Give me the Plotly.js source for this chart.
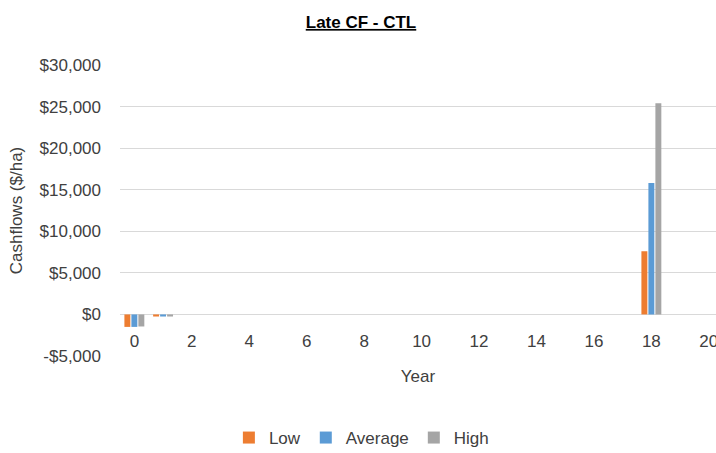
<!DOCTYPE html>
<html>
<head>
<meta charset="utf-8">
<script src="https://cdn.plot.ly/plotly-3.0.1.min.js"></script>
<style>html,body{margin:0;padding:0;background:#fff;overflow:hidden;}#chart{width:716px;height:453px;}</style>
</head>
<body>
<div id="chart"></div>
<script>
const years = [0,1,2,3,4,5,6,7,8,9,10,11,12,13,14,15,16,17,18,19,20];
const lowVals = [-1500,-250,0,0,0,0,0,0,0,0,0,0,0,0,0,0,0,0,7600,0,0];
const avgVals = [-1500,-250,0,0,0,0,0,0,0,0,0,0,0,0,0,0,0,0,15800,0,0];
const highVals = [-1450,-250,0,0,0,0,0,0,0,0,0,0,0,0,0,0,0,0,25400,0,0];
const yTickVals = [-5000,0,5000,10000,15000,20000,25000,30000];
const yTickText = ['-$5,000','$0','$5,000','$10,000','$15,000','$20,000','$25,000','$30,000'];
const seriesNames = ['Low','Average','High'];
const colors = ['#ED7D31','#5B9BD5','#A5A5A5'];

const font = 'Liberation Sans, Arial, sans-serif';
const data = [lowVals, avgVals, highVals].map((v,i)=>({
  type:'bar', x: years, y: v, name: seriesNames[i],
  marker:{color: colors[i]}
}));

const layout = {
  width:716, height:453,
  margin:{l:120, r:0, t:65, b:97, pad:0},
  paper_bgcolor:'#fff', plot_bgcolor:'#fff',
  font:{family:font, size:17, color:'#404040'},
  title:{text:'<b><u>Late CF - CTL</u></b>', x:361/716, xref:'container', xanchor:'center', y:1-22/453, yref:'container', yanchor:'middle', font:{family:font, size:17, color:'#000'}},
  barmode:'group', bargap:0.27, bargroupgap:0.15,
  xaxis:{
    range:[-0.5,20.25], tickmode:'linear', tick0:0, dtick:2,
    anchor:'free', position:5000/35000,
    showgrid:false, zeroline:false, showline:false,
    ticks:'', ticklabelstandoff:15, ticklabeloverflow:'allow',
    tickfont:{family:font, size:17, color:'#404040'},
    title:{text:'Year', font:{family:font, size:17, color:'#404040'}, standoff:19}
  },
  yaxis:{
    range:[-5000,30000], tickvals:yTickVals, ticktext:yTickText,
    showgrid:true, gridcolor:'#D9D9D9', gridwidth:1,
    zeroline:true, zerolinecolor:'#D9D9D9', zerolinewidth:1,
    showline:false, ticks:'', ticklabelstandoff:18,
    tickfont:{family:font, size:17, color:'#404040'},
    title:{text:'Cashflows ($/ha)', font:{family:font, size:17, color:'#404040'}, standoff:12}
  },
  legend:{orientation:'h', x:0.405, xanchor:'center', yref:'container', y:1-438/453, yanchor:'middle',
    font:{family:font, size:17, color:'#404040'}, traceorder:'normal'},
  showlegend:true
};
Plotly.newPlot('chart', data, layout, {displayModeBar:false, staticPlot:true});
</script>
</body>
</html>
